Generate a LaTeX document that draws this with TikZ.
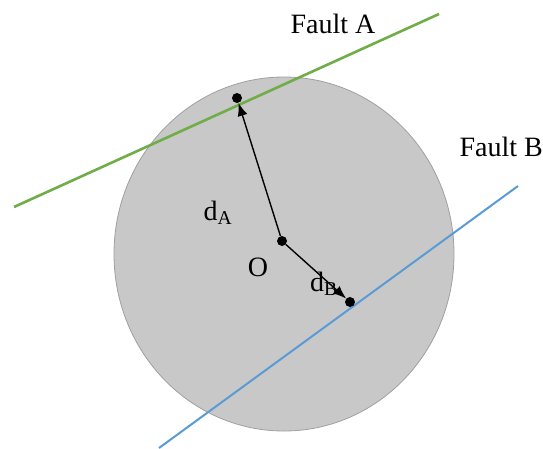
\documentclass[tikz,border=0pt]{standalone}
\usepackage{fontspec}
\setmainfont{Liberation Serif}
\usetikzlibrary{arrows.meta}
\definecolor{faultgreen}{RGB}{112,173,71}
\definecolor{faultblue}{RGB}{91,155,213}
\definecolor{discfill}{RGB}{200,200,200}
\definecolor{discedge}{RGB}{160,160,160}
\tikzset{
  lbl/.style={font=\fontsize{28}{32}\selectfont, inner sep=0pt},
  vec/.style={line width=1.4pt, arrows={-Latex[length=13pt,width=10pt]}},
  dot/.style={circle, fill=black, inner sep=0pt, minimum size=10pt},
}
\begin{document}
\begin{tikzpicture}[x=1pt,y=-1pt]
\useasboundingbox (0,0) rectangle (543,448);
\fill[white] (0,0) rectangle (543,448);
% disc
\draw[discedge, fill=discfill, line width=0.8pt] (284,254) ellipse [x radius=170, y radius=177];
% faults
\coordinate (A1) at (14,207);
\coordinate (A2) at (439,14);
\coordinate (B1) at (159,448);
\coordinate (B2) at (518,186);
\draw[faultgreen, line width=2.6pt] (A1) -- (A2);
\draw[faultblue, line width=2pt] (B1) -- (B2);
% points
\node[dot] (O) at (282,241) {};
\node[dot] (PA) at (237,98) {};
\node[dot] (PB) at (350,302) {};
\draw[vec] (O) -- (PA);
\draw[vec] (O) -- (PB);
% labels
\node[lbl] (fa) at (333,24) {Fault A};
\node[lbl, anchor=east] (fb) at (543,147) {Fault B};
\node[lbl] (lda) at (218,213) {d\textsubscript{A}};
\node[lbl] (lo) at (258,267) {O};
\node[lbl] (ldb) at (324,284) {d\textsubscript{B}};
\end{tikzpicture}
\end{document}
